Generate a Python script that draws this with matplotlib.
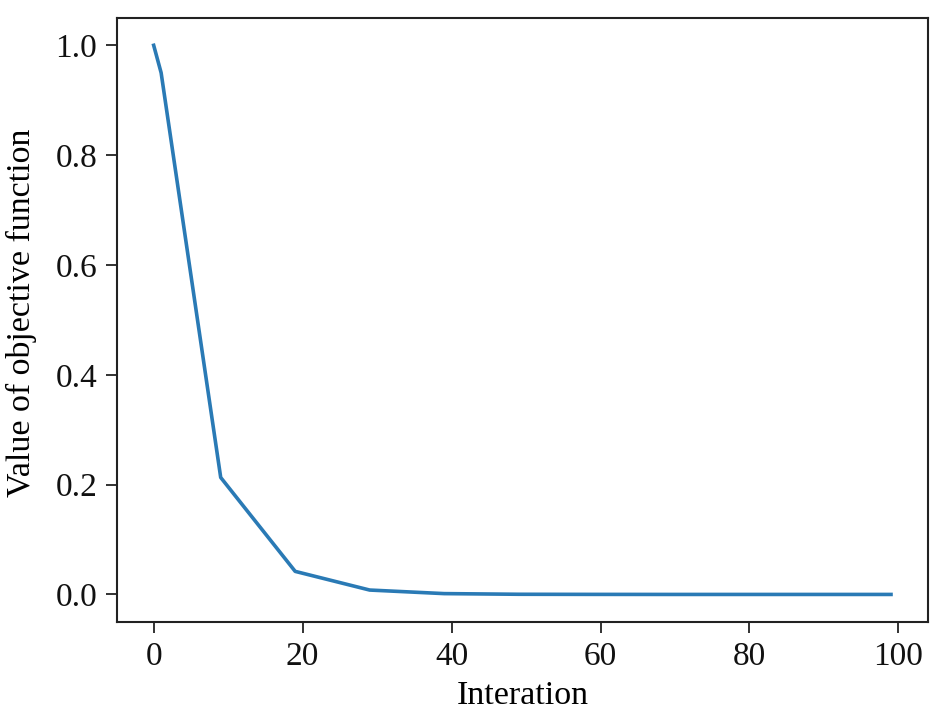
import matplotlib
matplotlib.use("Agg")
import matplotlib.pyplot as plt

iterations = [0, 1, 9, 19, 29, 39, 49, 59, 69, 79, 89, 99]
objective = [1.0, 0.950, 0.213, 0.042, 0.008, 0.0015, 0.0003, 0.0001, 0.0, 0.0, 0.0, 0.0]
xticks = [0, 20, 40, 60, 80, 100]
yticks = [0.0, 0.2, 0.4, 0.6, 0.8, 1.0]

plt.rcParams['font.family'] = ['Liberation Serif', 'DejaVu Serif']

fig = plt.figure(figsize=(9.42, 7.14), dpi=100)
ax = fig.add_axes([0.124, 0.129, 0.861, 0.846])
ax.plot(iterations, objective, color='#2a7ab5', linewidth=2.6)
ax.set_xticks(xticks)
ax.set_yticks(yticks)
ax.set_yticklabels([f"{v:.1f}" for v in yticks])
ax.tick_params(direction='out', length=8, width=1.3, pad=6, labelsize=24, colors='#222222', labelcolor='#111111')
for s in ax.spines.values():
    s.set_linewidth(1.5)
    s.set_color('#222222')
ax.set_xlabel('Interation', fontsize=24.5, labelpad=6)
ax.set_ylabel('Value of objective function', fontsize=24.5)
ax.yaxis.set_label_coords(-0.099, 0.512)
fig.savefig('out.png', dpi=100)
